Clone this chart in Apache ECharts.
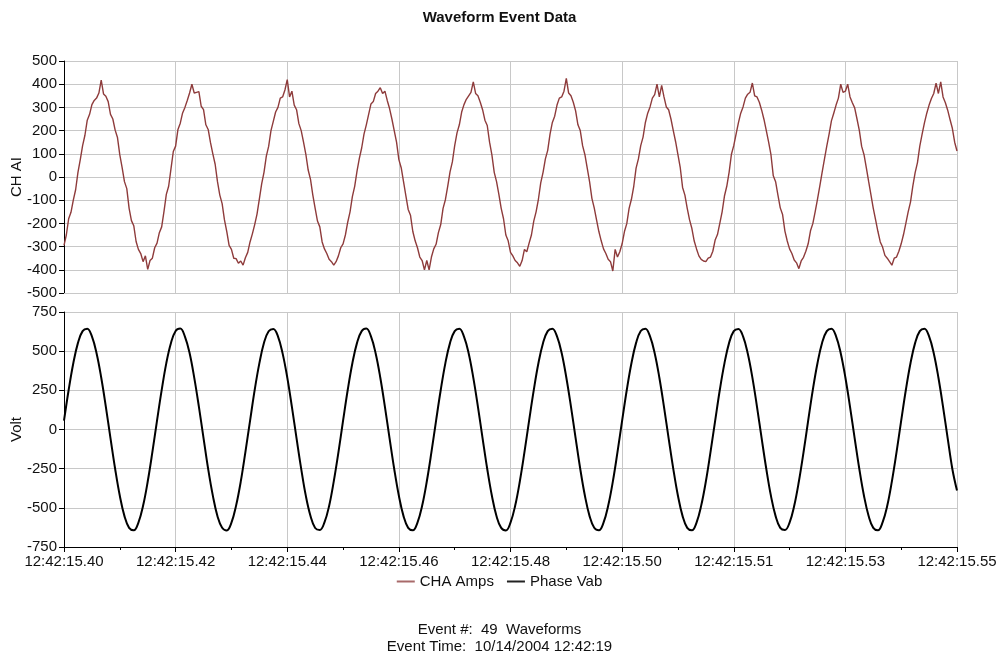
<!DOCTYPE html>
<html><head><meta charset="utf-8">
<script src="https://cdn.jsdelivr.net/npm/echarts@6/dist/echarts.min.js"></script>
<style>html,body{margin:0;padding:0;background:#fff}#c{width:999px;height:654px}</style>
</head><body><div id="c"></div>
<script>
const timeLabels = ['12:42:15.40','12:42:15.42','12:42:15.44','12:42:15.46','12:42:15.48','12:42:15.50','12:42:15.51','12:42:15.53','12:42:15.55'];
const seriesNames = ['CHA Amps', 'Phase Vab'];
// CH AI samples (40 per cycle)
const chaAmps = [
-295,-250,-180,-152,-100,-55,20,75,135,180,245,270,312,330,340,362,418,358,348,325,270,250,202,170,95,40,-20,-50,-135,-188,-210,-278,-312,-330,-365,-340,-398,-360,-350,-305,
-285,-240,-215,-148,-75,-40,35,110,133,205,232,276,300,330,362,400,362,365,368,305,290,225,205,148,100,55,-20,-78,-115,-185,-235,-295,-312,-350,-352,-372,-362,-380,-348,-325,
-280,-245,-205,-160,-95,-30,20,90,132,200,240,280,300,340,345,375,420,345,370,310,290,230,200,150,98,30,-10,-78,-135,-190,-215,-280,-310,-330,-355,-365,-380,-365,-340,-305,
-288,-250,-195,-150,-85,-40,25,80,125,185,225,270,315,325,360,370,385,360,370,330,295,250,200,150,75,40,-20,-80,-140,-165,-235,-275,-305,-345,-360,-400,-360,-400,-345,-310,
-290,-240,-205,-135,-98,-40,22,65,135,190,225,280,312,335,350,365,410,360,350,322,290,245,222,150,95,20,-20,-75,-135,-180,-250,-275,-325,-340,-360,-370,-385,-360,-312,-322,
-285,-250,-190,-150,-96,-25,20,78,115,185,235,262,310,340,345,370,425,362,350,322,285,225,200,135,96,38,-20,-92,-133,-185,-235,-275,-310,-330,-355,-365,-405,-312,-345,-322,
-288,-235,-201,-135,-96,-40,38,78,135,172,235,275,302,340,355,400,345,395,345,302,290,250,200,152,96,40,-45,-78,-135,-185,-222,-276,-310,-340,-355,-362,-365,-350,-345,-320,
-272,-248,-200,-150,-82,-40,20,98,135,185,233,275,302,340,357,365,405,350,345,322,288,248,200,150,96,5,-20,-78,-133,-162,-233,-276,-310,-330,-358,-370,-395,-362,-346,-320,
-288,-232,-201,-150,-96,-39,20,77,133,185,242,275,310,340,400,365,370,400,345,320,298,250,201,132,97,40,-19,-77,-135,-185,-235,-280,-302,-338,-350,-365,-380,-350,-345,-320,
-288,-248,-200,-150,-108,-39,19,62,133,185,233,275,310,338,360,405,360,410,345,320,288,248,210,150,112
];
// Volt samples (20 per cycle)
const phaseVab = [
56,252,423,553,628,643,594,487,332,145,-56,-252,-423,-553,-628,-643,-594,-487,-332,-145,
57,251,424,552,629,644,593,488,331,146,-55,-253,-422,-554,-627,-644,-595,-486,-333,-144,
55,253,422,554,627,642,595,486,333,144,-57,-251,-424,-552,-629,-642,-593,-488,-331,-146,
56,252,423,553,628,644,594,487,332,145,-56,-252,-423,-553,-628,-643,-594,-487,-332,-145,
57,252,424,553,628,643,593,487,331,145,-56,-252,-423,-554,-628,-644,-594,-487,-332,-145,
56,251,423,552,628,643,594,488,332,146,-55,-252,-423,-553,-627,-643,-595,-487,-333,-145,
56,252,423,553,629,643,594,487,332,145,-56,-251,-423,-553,-628,-643,-594,-486,-332,-144,
55,252,422,553,628,642,594,487,333,145,-57,-252,-424,-553,-628,-642,-594,-487,-332,-146,
56,253,423,554,628,643,595,487,332,145,-56,-252,-423,-552,-628,-643,-593,-487,-331,-145,
56,252,423,553,628,643,594,487,332,145,-56,-252,-390
];

const FONT = '"Liberation Sans", Arial, sans-serif';
const TXT = '#111';
const GRIDC = '#c8c8c8';
const ampSteps = (chaAmps.length - 1) / (timeLabels.length - 1);
const voltSteps = (phaseVab.length - 1) / (timeLabels.length - 1);

const chart = echarts.init(document.getElementById('c'), null, {renderer: 'canvas'});
const splitL = {show: true, lineStyle: {color: GRIDC, width: 1}};
chart.setOption({
  animation: false,
  backgroundColor: '#fff',
  textStyle: {fontFamily: FONT},
  title: [
    {text: 'Waveform Event Data', left: 'center', top: 5, textStyle: {fontFamily: FONT, fontSize: 15, fontWeight: 'bold', color: TXT}},
    {text: 'Event #:  49  Waveforms', left: 'center', top: 617, textStyle: {fontFamily: FONT, fontSize: 15, fontWeight: 'normal', color: TXT}},
    {text: 'Event Time:  10/14/2004 12:42:19', left: 'center', top: 634, textStyle: {fontFamily: FONT, fontSize: 15, fontWeight: 'normal', color: TXT}}
  ],
  legend: {
    data: [
      {name: seriesNames[0], itemStyle: {color: '#a86a6a'}},
      {name: seriesNames[1], itemStyle: {color: '#222'}}
    ],
    left: 'center', top: 569, icon: 'rect', itemWidth: 18, itemHeight: 2, itemGap: 13,
    textStyle: {fontFamily: FONT, fontSize: 15, color: TXT}
  },
  grid: [
    {left: 64, right: 42, top: 61, height: 232, outerBoundsMode: 'none'},
    {left: 64, right: 42, top: 312, height: 235, outerBoundsMode: 'none'}
  ],
  xAxis: [
    {gridIndex: 0, type: 'value', min: 0, max: chaAmps.length - 1, interval: ampSteps,
     axisLine: {show: true, onZero: false, lineStyle: {color: GRIDC}}, axisTick: {show: false}, axisLabel: {show: false},
     splitLine: splitL},
    {gridIndex: 1, type: 'value', min: 0, max: phaseVab.length - 1, interval: voltSteps,
     axisLine: {show: true, onZero: false, lineStyle: {color: '#000', width: 1}},
     axisTick: {show: true, length: 5, lineStyle: {color: '#000'}},
     minorTick: {show: true, splitNumber: 2, length: 3, lineStyle: {color: '#000'}},
     axisLabel: {show: true, margin: 7, fontFamily: FONT, fontSize: 15, color: TXT, showMinLabel: true, showMaxLabel: true,
       formatter: v => timeLabels[Math.round(v / voltSteps)]},
     splitLine: splitL}
  ],
  yAxis: [
    {gridIndex: 0, type: 'value', min: -500, max: 500, interval: 100, name: 'CH AI', nameLocation: 'middle', nameGap: 40,
     nameMoveOverlap: false,
     nameTextStyle: {fontFamily: FONT, fontSize: 15, color: TXT},
     axisLine: {show: true, onZero: false, lineStyle: {color: '#000'}},
     axisTick: {show: true, length: 5, lineStyle: {color: '#000'}},
     axisLabel: {margin: 7, fontFamily: FONT, fontSize: 15, color: TXT},
     splitLine: splitL},
    {gridIndex: 1, type: 'value', min: -750, max: 750, interval: 250, name: 'Volt', nameLocation: 'middle', nameGap: 40,
     nameMoveOverlap: false,
     nameTextStyle: {fontFamily: FONT, fontSize: 15, color: TXT},
     axisLine: {show: true, onZero: false, lineStyle: {color: '#000'}},
     axisTick: {show: true, length: 5, lineStyle: {color: '#000'}},
     axisLabel: {margin: 7, fontFamily: FONT, fontSize: 15, color: TXT},
     splitLine: splitL}
  ],
  series: [
    {name: seriesNames[0], type: 'line', xAxisIndex: 0, yAxisIndex: 0, symbol: 'none',
     data: chaAmps.map((v, i) => [i, v]),
     lineStyle: {color: '#8e3b3b', width: 1.4}, itemStyle: {color: '#8e3b3b'}},
    {name: seriesNames[1], type: 'line', xAxisIndex: 1, yAxisIndex: 1, symbol: 'none', smooth: 0.4,
     data: phaseVab.map((v, i) => [i, v]),
     lineStyle: {color: '#000', width: 2}, itemStyle: {color: '#000'}}
  ]
});
</script>
</body></html>
